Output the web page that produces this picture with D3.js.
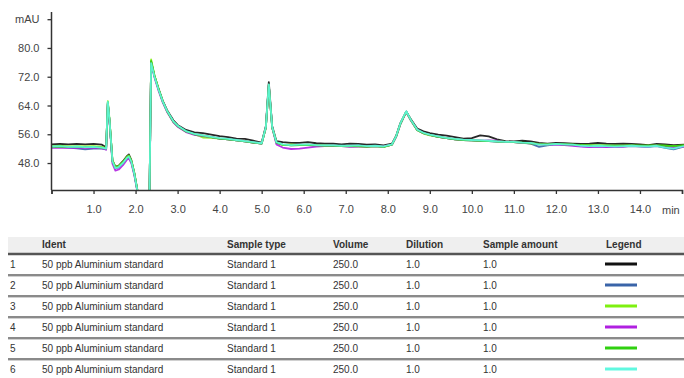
<!DOCTYPE html>
<html>
<head>
<meta charset="utf-8">
<script src="https://cdn.jsdelivr.net/npm/d3@7"></script>
<style>
  html, body { margin: 0; padding: 0; background: #fff; }
  svg { display: block; font-family: "Liberation Sans", Arial, sans-serif; }
</style>
</head>
<body>
<svg id="chart" width="684" height="378"></svg>
<script>
// retention time (min)
const times = [0, 0.2, 0.4, 0.6, 0.8, 1.0, 1.2, 1.3,
  1.34, 1.38, 1.45, 1.52, 1.6, 1.7, 1.8, 1.84,
  1.9, 1.97, 2.04, 2.12, 2.25, 2.33, 2.37, 2.45,
  2.55, 2.65, 2.75, 2.9, 3.0, 3.2, 3.4, 3.6,
  3.8, 4.0, 4.2, 4.4, 4.6, 4.8, 5.0, 5.1,
  5.17, 5.25, 5.35, 5.5, 5.7, 5.9, 6.1, 6.3,
  6.5, 6.7, 6.9, 7.1, 7.3, 7.5, 7.7, 7.9,
  8.1, 8.2, 8.3, 8.44, 8.55, 8.7, 8.85, 9.0,
  9.2, 9.4, 9.6, 9.8, 10.0, 10.2, 10.4, 10.6,
  10.8, 11.0, 11.2, 11.4, 11.6, 11.8, 12.0, 12.2,
  12.4, 12.6, 12.8, 13.0, 13.2, 13.4, 13.6, 13.8,
  14.0, 14.2, 14.4, 14.6, 14.8, 15.05];

// mAU per injection
const run1 = [53.2, 53.3, 53.2, 53.3, 53.2, 53.3, 53.1, 52.4,
  64.6, 59.8, 48.7, 47.0, 47.3, 48.5, 50.0, 50.4,
  48.8, 45.3, 40.7, 35.2, 33.2, 38.2, 76.2, 72.2,
  68.6, 65.2, 62.7, 59.9, 58.6, 57.2, 56.5, 56.3,
  55.9, 55.5, 55.2, 54.8, 54.7, 54.2, 53.7, 58.3,
  70.5, 58.3, 54.1, 53.8, 53.6, 53.6, 53.8, 53.5,
  53.4, 53.4, 53.2, 53.4, 53.3, 53.1, 53.2, 52.9,
  53.4, 55.6, 59.1, 62.3, 60.2, 57.6, 56.8, 56.3,
  55.9, 55.6, 55.2, 54.8, 54.9, 55.7, 55.4, 54.6,
  54.1, 54.0, 54.2, 54.0, 53.6, 53.4, 53.6, 53.5,
  53.4, 53.3, 53.4, 53.6, 53.4, 53.3, 53.4, 53.3,
  53.2, 53.0, 53.3, 53.2, 53.0, 53.1];
const run2 = [52.4, 52.5, 52.3, 52.1, 51.8, 52.0, 52.0, 51.8,
  64.8, 59.9, 48.4, 46.5, 46.8, 47.9, 49.4, 49.7,
  48.3, 44.9, 40.4, 34.9, 32.9, 37.9, 76.0, 72.1,
  68.4, 65.1, 62.5, 59.5, 58.3, 56.8, 56.0, 55.6,
  55.2, 54.8, 54.6, 54.3, 54.0, 53.7, 53.4, 57.9,
  69.8, 57.9, 53.7, 53.1, 52.9, 53.0, 53.1, 52.9,
  52.8, 52.8, 52.7, 52.7, 52.8, 52.6, 52.7, 52.5,
  53.1, 55.4, 58.9, 62.3, 59.9, 57.2, 56.3, 55.8,
  55.3, 54.9, 54.6, 54.4, 54.3, 54.2, 54.1, 53.9,
  53.8, 53.8, 53.6, 53.4, 52.5, 52.9, 53.2, 53.1,
  53.0, 52.7, 52.6, 52.6, 52.6, 52.5, 52.6, 52.7,
  52.6, 52.5, 52.7, 52.2, 51.8, 52.6];
const run3 = [52.7, 52.8, 52.6, 52.7, 52.6, 52.7, 52.5, 52.1,
  65.2, 60.2, 48.8, 46.9, 47.2, 48.3, 49.8, 50.1,
  48.6, 45.2, 40.6, 35.1, 33.1, 38.1, 76.8, 72.4,
  68.5, 65.0, 62.4, 59.4, 58.2, 56.7, 56.0, 55.1,
  55.0, 54.8, 54.6, 54.3, 54.0, 53.7, 53.4, 57.8,
  69.6, 57.8, 53.7, 53.0, 53.2, 53.0, 53.1, 52.9,
  52.8, 52.7, 52.7, 52.6, 52.6, 52.5, 52.7, 52.5,
  53.1, 55.4, 58.8, 62.2, 59.8, 57.1, 56.2, 55.7,
  55.3, 54.9, 54.6, 54.4, 54.3, 54.1, 54.2, 54.0,
  53.9, 53.8, 53.6, 53.5, 53.3, 53.2, 53.3, 53.2,
  53.1, 53.0, 52.9, 52.9, 52.8, 52.8, 52.8, 52.9,
  52.8, 52.8, 52.9, 52.8, 52.7, 52.9];
const run4 = [52.2, 52.3, 52.2, 52.3, 52.2, 52.3, 52.1, 51.7,
  64.5, 59.5, 47.8, 45.9, 46.2, 47.4, 49.0, 49.3,
  47.9, 44.6, 40.2, 34.8, 32.8, 37.8, 75.9, 71.8,
  68.0, 64.7, 62.2, 59.3, 58.1, 56.6, 55.8, 55.5,
  55.2, 54.8, 54.6, 54.3, 54.0, 53.7, 53.4, 57.9,
  69.7, 57.9, 53.2, 52.3, 51.9, 52.0, 52.3, 52.6,
  52.7, 52.8, 52.7, 52.5, 52.6, 52.6, 52.7, 52.6,
  53.1, 55.3, 58.8, 62.2, 59.9, 57.2, 56.3, 55.8,
  55.3, 54.9, 54.6, 54.4, 54.3, 54.2, 54.3, 54.2,
  53.8, 53.8, 53.6, 53.5, 53.2, 53.1, 53.2, 53.0,
  52.8, 52.6, 52.4, 52.6, 52.4, 52.5, 52.6, 52.8,
  52.7, 52.6, 52.9, 52.5, 52.3, 52.6];
const run5 = [52.5, 52.6, 52.5, 52.5, 52.4, 52.5, 52.3, 52.0,
  64.9, 59.9, 48.5, 46.7, 47.0, 48.1, 49.6, 49.9,
  48.5, 45.1, 40.5, 35.0, 33.0, 38.0, 76.4, 72.2,
  68.4, 65.0, 62.4, 59.5, 58.3, 56.8, 56.0, 55.6,
  55.2, 54.8, 54.6, 54.3, 54.0, 53.7, 53.4, 57.9,
  69.8, 57.9, 53.7, 53.1, 52.9, 53.0, 53.0, 52.9,
  52.8, 52.8, 52.7, 52.7, 52.7, 52.6, 52.7, 52.5,
  53.1, 55.4, 58.9, 62.3, 60.0, 57.2, 56.3, 55.8,
  55.3, 54.9, 54.6, 54.4, 54.3, 54.2, 54.1, 54.0,
  53.9, 53.8, 53.7, 53.5, 53.2, 53.2, 53.3, 53.2,
  53.1, 53.0, 52.9, 52.9, 52.9, 52.8, 52.8, 52.9,
  52.8, 52.8, 52.9, 52.8, 52.7, 52.9];
const run6 = [52.6, 52.7, 52.5, 52.6, 52.4, 52.5, 52.3, 52.0,
  65.0, 60.0, 48.5, 46.6, 46.9, 48.0, 49.5, 49.8,
  48.4, 45.0, 40.5, 35.0, 33.0, 38.0, 75.8, 72.0,
  68.3, 65.0, 62.5, 59.6, 58.4, 56.9, 56.1, 55.7,
  55.3, 54.9, 54.7, 54.4, 54.1, 53.8, 53.5, 58.0,
  69.9, 58.0, 53.8, 53.2, 53.0, 53.1, 53.2, 53.0,
  52.9, 52.9, 52.8, 52.8, 52.9, 52.7, 52.8, 52.6,
  53.2, 55.5, 59.0, 62.4, 60.0, 57.3, 56.4, 55.9,
  55.4, 55.0, 54.7, 54.5, 54.4, 54.3, 54.2, 54.0,
  53.9, 53.9, 53.7, 53.6, 53.1, 53.1, 53.3, 53.2,
  53.1, 52.8, 52.7, 52.8, 52.7, 52.6, 52.7, 52.8,
  52.7, 52.6, 52.8, 52.3, 52.0, 52.7];

const runColors = ['#111111', '#3a64a8', '#7ef010', '#b020e0', '#30d010', '#60f8e0'];
const yTicks = [48, 56, 64, 72, 80, 88];
const xTicks = [0, 1, 2, 3, 4, 5, 6, 7, 8, 9, 10, 11, 12, 13, 14, 15];

// table
const columns = ['', 'Ident', 'Sample type', 'Volume', 'Dilution', 'Sample amount', 'Legend'];
const idents = ['50 ppb Aluminium standard', '50 ppb Aluminium standard', '50 ppb Aluminium standard',
  '50 ppb Aluminium standard', '50 ppb Aluminium standard', '50 ppb Aluminium standard'];
const sampleTypes = ['Standard 1', 'Standard 1', 'Standard 1', 'Standard 1', 'Standard 1', 'Standard 1'];
const volumes = ['250.0', '250.0', '250.0', '250.0', '250.0', '250.0'];
const dilutions = ['1.0', '1.0', '1.0', '1.0', '1.0', '1.0'];
const amounts = ['1.0', '1.0', '1.0', '1.0', '1.0', '1.0'];

const runs = [run1, run2, run3, run4, run5, run6];

const svg = d3.select('#chart');

// Plot frame
const plot = { left: 51.5, right: 682, top: 12, bottom: 190 };

const x = d3.scaleLinear().domain([0, 15]).range([plot.left, plot.right]);
const y = d3.scaleLinear().domain([40.5, 90]).range([plot.bottom, plot.top]);

svg.append('defs').append('clipPath').attr('id', 'clip')
  .append('rect')
  .attr('x', plot.left).attr('y', plot.top)
  .attr('width', 684 - plot.left).attr('height', plot.bottom - plot.top);

// Traces
const line = d3.line()
  .x((d, i) => x(times[i]))
  .y(d => y(d));

svg.append('g')
  .attr('clip-path', 'url(#clip)')
  .selectAll('path')
  .data(runs)
  .join('path')
  .attr('d', line)
  .attr('fill', 'none')
  .attr('stroke', (d, i) => runColors[i])
  .attr('stroke-width', 1.8)
  .attr('stroke-linejoin', 'round')
  .attr('opacity', 0.9);

// Y axis
const yAxis = svg.append('g')
  .attr('transform', `translate(${plot.left},0)`)
  .call(d3.axisLeft(y).tickValues(yTicks).tickSize(4).tickPadding(8)
    .tickFormat(d => d === 88 ? 'mAU' : d3.format('.1f')(d)));
yAxis.select('.domain').attr('d', `M0,${plot.top}V${plot.bottom}`);

// X axis
const xAxis = svg.append('g')
  .attr('transform', `translate(0,${plot.bottom})`)
  .call(d3.axisBottom(x).tickValues(xTicks).tickSize(4).tickPadding(11)
    .tickFormat(d => (d === 0 || d === 15) ? '' : d3.format('.1f')(d)));

[yAxis, xAxis].forEach(ax => {
  ax.select('.domain').attr('stroke', '#333').attr('stroke-width', 1.5);
  ax.selectAll('.tick line').attr('stroke', '#333').attr('stroke-width', 1.3);
  ax.selectAll('text').attr('fill', '#444').attr('font-size', 11)
    .attr('font-family', '"Liberation Sans", Arial, sans-serif');
});

svg.append('text')
  .attr('x', 662).attr('y', 214)
  .attr('fill', '#444').attr('font-size', 11)
  .text('min');

// Table
const colX = [10, 42, 227, 333, 406, 483, 606];
const rowY = [264, 285, 306, 327, 348, 369];
const table = svg.append('g').attr('font-size', 10).attr('fill', '#333');

table.append('rect')
  .attr('x', 8).attr('y', 237).attr('width', 676).attr('height', 16)
  .attr('fill', '#efefef');
table.append('line')
  .attr('x1', 8).attr('x2', 684).attr('y1', 254).attr('y2', 254)
  .attr('stroke', '#555').attr('stroke-width', 2.5);

table.selectAll('text.head')
  .data(columns)
  .join('text')
  .attr('class', 'head')
  .attr('x', (d, i) => colX[i])
  .attr('y', 248)
  .attr('font-weight', 'bold')
  .text(d => d);

const rows = idents.map((d, i) => [String(i + 1), d, sampleTypes[i], volumes[i], dilutions[i], amounts[i]]);

// row separators
table.selectAll('line.sep')
  .data(rowY.slice(0, -1))
  .join('line')
  .attr('class', 'sep')
  .attr('x1', 8).attr('x2', 684)
  .attr('y1', d => d + 11).attr('y2', d => d + 11)
  .attr('stroke', '#8a8a8a').attr('stroke-width', 2);
table.selectAll('line.sep2')
  .data(rowY.slice(0, -1))
  .join('line')
  .attr('class', 'sep2')
  .attr('x1', 8).attr('x2', 684)
  .attr('y1', d => d + 12.5).attr('y2', d => d + 12.5)
  .attr('stroke', '#d0d0d0').attr('stroke-width', 1);

const rowG = table.selectAll('g.row')
  .data(rows)
  .join('g')
  .attr('class', 'row')
  .attr('transform', (d, i) => `translate(0,${rowY[i]})`);

rowG.selectAll('text')
  .data(d => d)
  .join('text')
  .attr('x', (d, i) => colX[i])
  .attr('y', 4)
  .text(d => d);

rowG.append('line')
  .attr('x1', 605).attr('x2', 637)
  .attr('y1', 0).attr('y2', 0)
  .attr('stroke', (d, i) => runColors[i])
  .attr('stroke-width', 3);
</script>
</body>
</html>
